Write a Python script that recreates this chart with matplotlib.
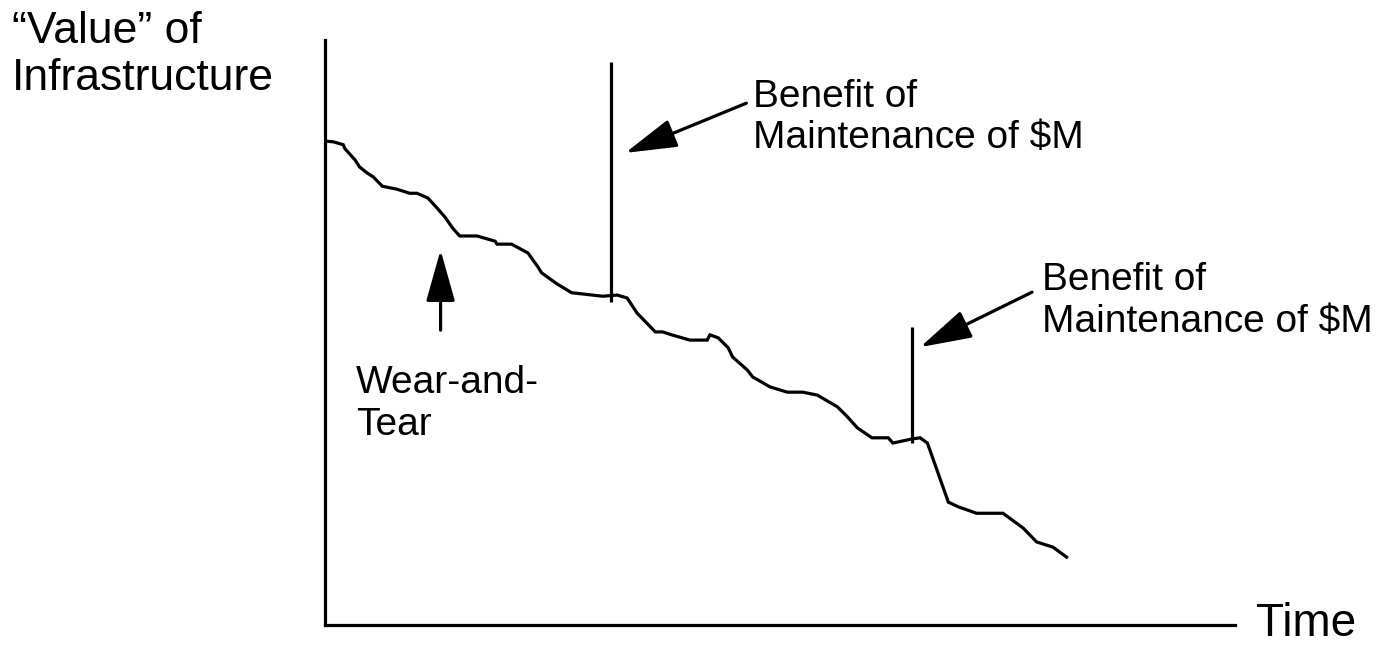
import matplotlib
matplotlib.use("Agg")
import matplotlib.pyplot as plt

plt.rcParams["font.family"] = ["Liberation Sans", "DejaVu Sans"]

# value of infrastructure over time (0-100 scale)
time = [0.1, 0.9, 2.0, 2.2, 3.3, 3.8, 4.6, 5.3, 6.3, 7.9, 9.3, 10.1, 11.3, 12.3,
        13.2, 14.0, 14.8, 16.7, 18.7, 18.9, 20.5, 22.3, 23.4, 23.8, 25.5, 27.1,
        30.5, 32.1, 33.2, 34.3, 36.3, 37.1, 38.1, 40.1, 42.0, 42.3, 43.2, 44.3,
        44.8, 46.4, 47.0, 48.9, 50.8, 52.5, 54.1, 56.3, 57.4, 58.5, 60.1, 61.9,
        62.4, 64.5, 65.4, 66.2, 68.5, 69.6, 71.6, 74.5, 76.7, 78.2, 80.0, 81.5]
value = [82.7, 82.6, 82.1, 81.4, 79.5, 78.3, 77.3, 76.6, 75.0, 74.5, 73.8, 73.8,
         73.0, 71.3, 69.7, 67.9, 66.5, 66.5, 65.6, 65.1, 65.1, 63.6, 61.2, 60.2,
         58.3, 56.8, 56.2, 56.4, 55.9, 53.3, 50.1, 50.1, 49.6, 48.7, 48.7, 49.6,
         49.1, 47.4, 45.8, 43.6, 42.4, 40.7, 39.8, 39.8, 39.3, 37.3, 35.6, 33.7,
         32.0, 32.0, 31.1, 31.8, 32.0, 31.1, 21.0, 20.2, 19.1, 19.1, 16.6, 14.2,
         13.3, 11.6]

# maintenance benefit bars: time, bottom, top
maint_time = [31.4, 64.5]
maint_low = [55.2, 31.1]
maint_high = [96.2, 50.9]
maint_label = "Benefit of\nMaintenance of $M"

fig = plt.figure(figsize=(13.91, 6.45), dpi=100)
ax = fig.add_axes([325 / 1391, 20 / 645, 910 / 1391, 585 / 645])
ax.set_xlim(0, 100)
ax.set_ylim(0, 100)
for s in ["top", "right"]:
    ax.spines[s].set_visible(False)
for s in ["left", "bottom"]:
    ax.spines[s].set_linewidth(2.3)
ax.set_xticks([])
ax.set_yticks([])

ax.plot(time, value, color="black", lw=2.3, solid_joinstyle="miter")
ax.vlines(maint_time, maint_low, maint_high, color="black", lw=2.3)

arrow = dict(arrowstyle="-|>,head_length=3.2,head_width=0.9", mutation_scale=10,
             color="black", lw=2.3, shrinkA=0, shrinkB=0)

ax.annotate("", xy=(33.0, 80.7), xytext=(46.3, 89.2), arrowprops=arrow)
ax.annotate("", xy=(65.4, 47.5), xytext=(77.7, 56.9), arrowprops=arrow)
ax.annotate("", xy=(12.7, 64.1), xytext=(12.7, 50.4), arrowprops=arrow)

ax.text(47.0, 93.4, maint_label, fontsize=28, ha="left", va="top")
ax.text(78.8, 62.0, maint_label, fontsize=28, ha="left", va="top")
ax.text(3.4, 44.4, "Wear-and-\nTear", fontsize=28, ha="left", va="top")

fig.text(12 / 1391, 1 - 11 / 645, "\u201cValue\u201d of\nInfrastructure", fontsize=32,
         ha="left", va="top")
fig.text(1256 / 1391, 1 - 602 / 645, "Time", fontsize=33, ha="left", va="top")

fig.savefig("out.png", dpi=100)
